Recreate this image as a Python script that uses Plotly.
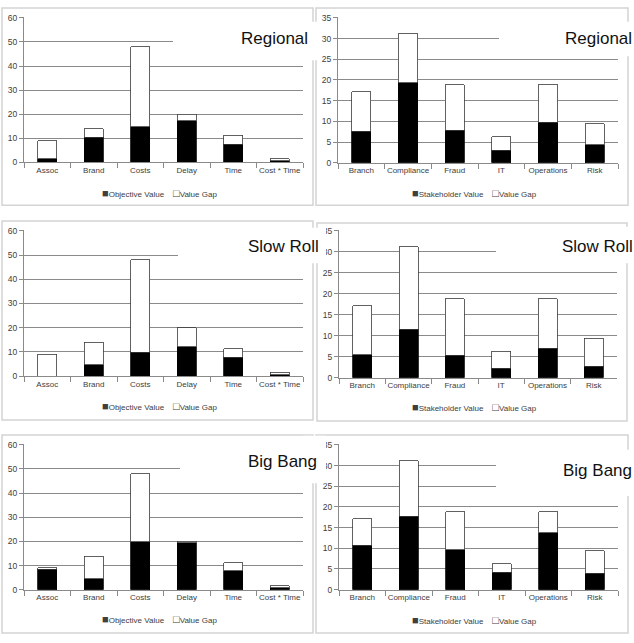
import plotly.graph_objects as go

W, H = 634, 643

# ---------------- data ----------------
obj_categories = ["Assoc", "Brand", "Costs", "Delay", "Time", "Cost * Time"]
obj_total = [9.0, 13.9, 48.0, 20.0, 11.2, 1.6]
obj_regional = [1.6, 10.5, 14.9, 17.3, 7.5, 0.7]
obj_slowroll = [0.0, 4.7, 9.8, 12.1, 7.7, 0.5]
obj_bigbang = [8.5, 4.6, 19.8, 19.4, 7.9, 0.8]

stk_categories = ["Branch", "Compliance", "Fraud", "IT", "Operations", "Risk"]
stk_total = [17.2, 31.2, 18.8, 6.3, 18.8, 9.4]
stk_regional = [7.6, 19.3, 7.9, 3.0, 9.8, 4.3]
stk_slowroll = [5.5, 11.6, 5.4, 2.2, 7.0, 2.7]
stk_bigbang = [10.7, 17.7, 9.6, 4.2, 13.8, 4.0]

scenario_names = ["Regional", "Slow Roll", "Big Bang"]
obj_series_name = "Objective Value"
stk_series_name = "Stakeholder Value"
gap_series_name = "Value Gap"
obj_yticks = [0, 10, 20, 30, 40, 50, 60]
stk_yticks = [0, 5, 10, 15, 20, 25, 30, 35]

# ---------------- helpers ----------------
def px(x):
    return x / W

def py(y):
    return 1 - y / H

FONT = "Liberation Sans, Arial, sans-serif"
GRID = "#8a8a8a"
TXT = "#404040"

panels = [
    (obj_categories, obj_regional, obj_total, obj_series_name, obj_yticks, (24, 303, 14, 160.7), (2, 313, 4, 204), 192),
    (stk_categories, stk_regional, stk_total, stk_series_name, stk_yticks, (338, 618, 14, 161), (316, 628, 4, 204), 192),
    (obj_categories, obj_slowroll, obj_total, obj_series_name, obj_yticks, (24, 303, 230, 377.3), (2, 313, 220, 422), 408),
    (stk_categories, stk_slowroll, stk_total, stk_series_name, stk_yticks, (339, 617, 230, 379), (317, 627, 222, 423), 409),
    (obj_categories, obj_bigbang, obj_total, obj_series_name, obj_yticks, (24, 303, 447, 594), (2, 313, 437, 638), 624),
    (stk_categories, stk_bigbang, stk_total, stk_series_name, stk_yticks, (339, 618, 447, 594), (316, 628, 437, 638), 625),
]

fig = go.Figure()
layout = dict(
    width=W, height=H, margin=dict(l=0, r=0, t=0, b=0),
    paper_bgcolor="white", plot_bgcolor="white",
    barmode="stack", showlegend=False,
    font=dict(family=FONT, size=8, color=TXT),
)
shapes = []
annotations = []

for i, (cats, vals, tots, sname, yt, (x0, x1, y0, y1), (bx0, bx1, by0, by1), ly) in enumerate(panels):
    n = i + 1
    xa = "x" if n == 1 else f"x{n}"
    ya = "y" if n == 1 else f"y{n}"
    gaps = [round(t - v, 2) for t, v in zip(tots, vals)]
    fig.add_trace(go.Bar(x=cats, y=vals, name=sname, xaxis=xa, yaxis=ya, width=0.41,
                         marker=dict(color="black", line=dict(color="black", width=0.8))))
    fig.add_trace(go.Bar(x=cats, y=gaps, name=gap_series_name, xaxis=xa, yaxis=ya, width=0.41,
                         marker=dict(color="white", line=dict(color="#3a3a3a", width=0.8))))
    xkey = "xaxis" if n == 1 else f"xaxis{n}"
    ykey = "yaxis" if n == 1 else f"yaxis{n}"
    top = yt[-1]
    layout[xkey] = dict(
        domain=[px(x0), px(x1)], anchor=ya, type="category",
        showline=True, linecolor=GRID, linewidth=1,
        ticks="outside", tickson="boundaries", ticklen=5, tickcolor=GRID,
        tickangle=0,
        tickfont=dict(size=8, color=TXT, family=FONT), showgrid=False, fixedrange=True,
    )
    layout[ykey] = dict(
        domain=[py(y1), py(y0 - 0.5)], anchor=xa, range=[0, top * 1.004],
        tickvals=yt, showgrid=True, gridcolor=GRID, gridwidth=1,
        showline=True, linecolor=GRID, linewidth=1, zeroline=False,
        ticks="outside", ticklen=4, tickcolor=GRID,
        tickfont=dict(size=8.5, color=TXT, family=FONT), fixedrange=True,
    )
    shapes.append(dict(type="rect", xref="paper", yref="paper",
                       x0=px(bx0), x1=px(bx1), y0=py(by1), y1=py(by0),
                       line=dict(color="#d4d4d4", width=1.5), layer="below"))
    cx = (x0 + x1) / 2 - 4
    annotations.append(dict(
        xref="paper", yref="paper", x=px(cx), y=py(ly), xanchor="center", yanchor="middle",
        showarrow=False, font=dict(size=8, color=TXT, family=FONT),
        text=f"<span style='font-size:11px'>■</span>{sname}    <span style='font-size:11px'>□</span>{gap_series_name}",
    ))

white_boxes = [
    (173, 319, 18, 57), (499, 634, 18, 53),
    (178, 326, 227, 263), (496, 634, 226, 263),
    (180, 303, 452, 486), (303, 326, 438, 486), (496, 634, 452, 499),
]
for (a, b, c, d) in white_boxes:
    shapes.append(dict(type="rect", xref="paper", yref="paper",
                       x0=px(a), x1=px(b), y0=py(d), y1=py(c),
                       fillcolor="white", line=dict(width=0), layer="above"))

titles = [
    (scenario_names[0], 239, 35), (scenario_names[0], 563, 35),
    (scenario_names[1], 246, 246), (scenario_names[1], 560, 246),
    (scenario_names[2], 246, 464), (scenario_names[2], 561, 473),
]
for (t, x, y) in titles:
    annotations.append(dict(
        xref="paper", yref="paper", x=px(x), y=py(y), xanchor="left", yanchor="middle",
        showarrow=False, text=t, font=dict(size=17, color="#111111", family=FONT),
    ))

layout["shapes"] = shapes
layout["annotations"] = annotations
fig.update_layout(**layout)
fig.write_html("out.html")
